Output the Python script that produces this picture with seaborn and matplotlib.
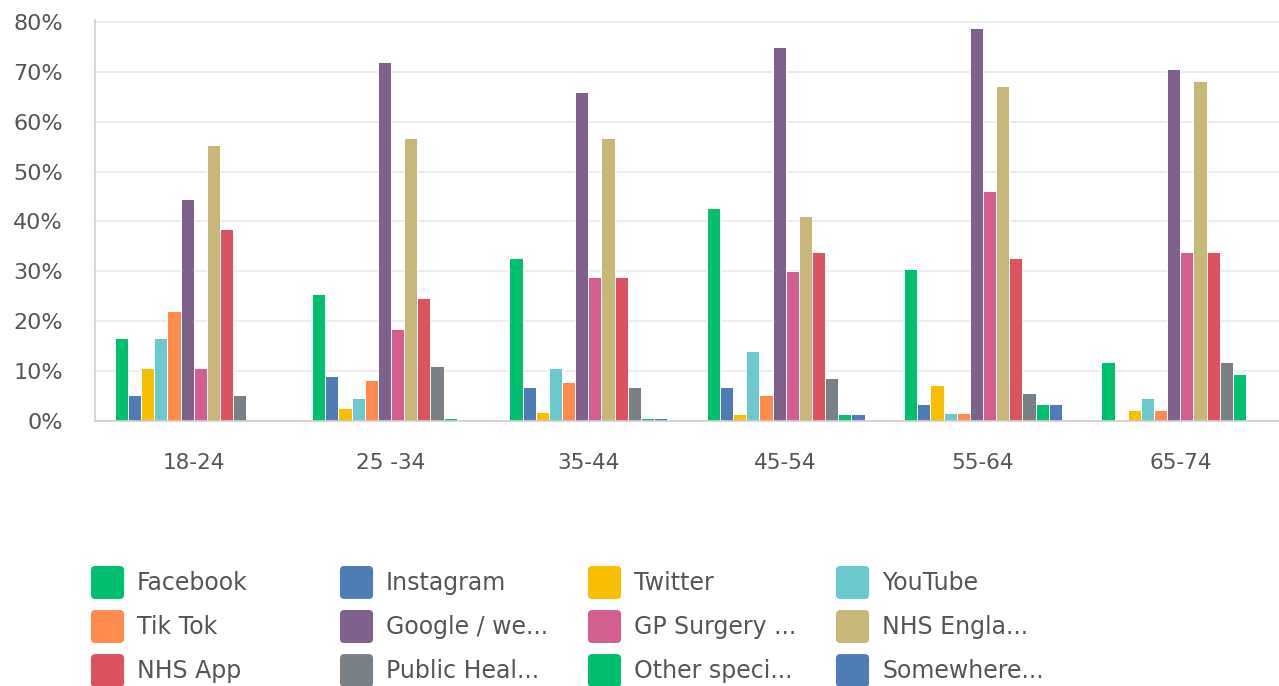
import matplotlib
matplotlib.use("Agg")
import matplotlib.pyplot as plt
import matplotlib.patches as mpatches
import matplotlib.ticker as mticker
from matplotlib.legend_handler import HandlerPatch
import pandas as pd
import seaborn as sns

# ---------------------------------------------------------------------------
# data (percent of respondents)
# ---------------------------------------------------------------------------
age_groups = ["18-24", "25 -34", "35-44", "45-54", "55-64", "65-74"]

sources = ["Facebook", "Instagram", "Twitter", "YouTube",
           "Tik Tok", "Google / we...", "GP Surgery ...", "NHS Engla...",
           "NHS App", "Public Heal...", "Other speci...", "Somewhere..."]

facebook      = [16.6, 25.4, 32.6, 42.7, 30.5, 11.9]
instagram     = [5.2, 9.0, 6.9, 6.9, 3.5, 0.0]
twitter       = [10.7, 2.7, 1.9, 1.4, 7.3, 2.3]
youtube       = [16.6, 4.7, 10.7, 14.1, 1.7, 4.7]
tiktok        = [22.1, 8.2, 7.8, 5.2, 1.7, 2.3]
google        = [44.5, 71.9, 66.0, 74.9, 78.7, 70.6]
gp_surgery    = [10.7, 18.4, 28.8, 30.1, 46.2, 33.9]
nhs_england   = [55.4, 56.8, 56.7, 41.1, 67.2, 68.1]
nhs_app       = [38.5, 24.6, 28.8, 33.9, 32.6, 33.9]
public_health = [5.2, 11.1, 6.9, 8.6, 5.6, 11.9]
other_special = [0.0, 0.6, 0.7, 1.4, 3.5, 9.4]
somewhere     = [0.0, 0.0, 0.7, 1.4, 3.5, 0.0]

series = [facebook, instagram, twitter, youtube, tiktok, google,
          gp_surgery, nhs_england, nhs_app, public_health, other_special,
          somewhere]

colors = ["#00BF6F", "#507CB6", "#F9BE00", "#6BC8CD", "#FF8B4F", "#7F628B",
          "#D25F90", "#C7B879", "#DC5261", "#798186", "#00BF6F", "#507CB6"]

rows = []
for name, vals in zip(sources, series):
    for age, v in zip(age_groups, vals):
        rows.append({"age": age, "source": name, "pct": v})
df = pd.DataFrame(rows)
palette = dict(zip(sources, colors))

# ---------------------------------------------------------------------------
# style
# ---------------------------------------------------------------------------
TEXT = "#555555"
sns.set_theme(style="white")
plt.rcParams["font.family"] = ["DejaVu Sans"]

fig = plt.figure(figsize=(12.79, 6.86), dpi=100)
ax = fig.add_axes([95 / 1279, 1 - 421 / 686, 1184 / 1279, 401 / 686])

sns.barplot(data=df, x="age", y="pct", hue="source", order=age_groups,
            hue_order=sources, palette=palette, saturation=1, width=0.8,
            errorbar=None, edgecolor="white", linewidth=0.7, legend=False,
            ax=ax)

ax.set_xlim(-0.5, 5.5)
ax.set_ylim(0, 80.4)
ax.set_yticks(range(0, 81, 10))
ax.yaxis.set_major_formatter(mticker.FuncFormatter(lambda v, _: f"{v:.0f}%"))
ax.grid(axis="y", color="#EAEAEA", linewidth=1.2)
ax.set_axisbelow(True)
ax.set_xlabel("")
ax.set_ylabel("")
ax.tick_params(axis="y", length=0, pad=23, labelsize=16, labelcolor=TEXT)
ax.tick_params(axis="x", length=0, pad=23, labelsize=15.5, labelcolor=TEXT)
for side in ["top", "right"]:
    ax.spines[side].set_visible(False)
for side in ["left", "bottom"]:
    ax.spines[side].set_color("#CFCFCF")
    ax.spines[side].set_linewidth(1.2)


# ---------------------------------------------------------------------------
# legend: 4 columns x 3 rows, rounded colour squares
# ---------------------------------------------------------------------------
def rounded_box(legend, orig_handle, xdescent, ydescent, width, height,
                fontsize):
    return mpatches.FancyBboxPatch((-xdescent, -ydescent), width, height,
                                   boxstyle="round,pad=0,rounding_size=3")


handles = [mpatches.Patch(facecolor=c, edgecolor="none") for c in colors]
col_x = [91, 340, 588, 836]
for col in range(4):
    leg = fig.legend(handles[col::4], sources[col::4], loc="upper left",
                     bbox_to_anchor=(col_x[col] / 1279, 1 - 566 / 686),
                     frameon=False, fontsize=17, handlelength=1.4,
                     handleheight=1.77, handletextpad=0.55, labelspacing=0.47,
                     borderpad=0, borderaxespad=0,
                     handler_map={mpatches.Patch: HandlerPatch(patch_func=rounded_box)})
    for t in leg.get_texts():
        t.set_color(TEXT)

fig.savefig("out.png", dpi=100, facecolor="white")
